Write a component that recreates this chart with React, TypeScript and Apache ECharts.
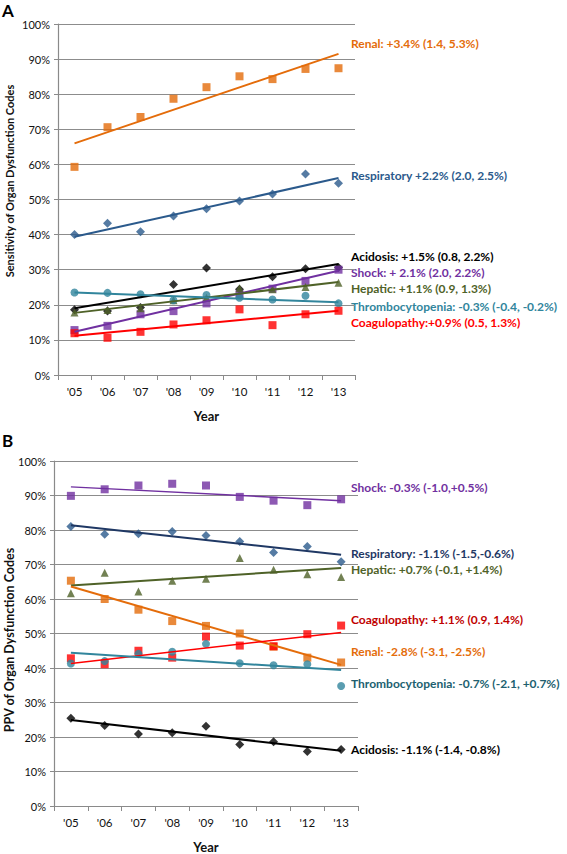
import React, { useEffect, useRef } from "react";
import * as echarts from "echarts";

const years = ["'05", "'06", "'07", "'08", "'09", "'10", "'11", "'12", "'13"];
const yTicks = [0, 10, 20, 30, 40, 50, 60, 70, 80, 90, 100];

// Panel A: sensitivity (%)
const sensRenal = [59.3, 70.6, 73.5, 78.7, 82.0, 85.1, 84.3, 87.2, 87.4];
const sensRespiratory = [40.0, 43.2, 40.8, 45.3, 47.4, 49.6, 51.6, 57.3, 54.6];
const sensAcidosis = [18.6, 18.2, 19.2, 25.8, 30.5, 24.4, 28.0, 30.3, 30.6];
const sensShock = [12.8, 14.0, 17.3, 18.2, 20.4, 23.0, 24.6, 26.8, 30.0];
const sensHepatic = [17.8, 18.5, 19.0, 21.3, 22.0, 24.7, 24.4, 25.1, 26.3];
const sensThrombo = [23.5, 23.4, 23.0, 21.3, 22.8, 22.0, 21.5, 22.6, 20.4];
const sensCoag = [11.9, 10.6, 12.3, 14.4, 15.6, 18.7, 14.2, 17.3, 18.3];

// Panel A trend lines: value at '05 and at '13
const sensTrendRenal = [66.0, 91.5];
const sensTrendRespiratory = [39.4, 56.1];
const sensTrendAcidosis = [19.0, 31.6];
const sensTrendShock = [12.3, 29.7];
const sensTrendHepatic = [17.7, 26.5];
const sensTrendThrombo = [23.5, 20.7];
const sensTrendCoag = [11.2, 18.3];

// Panel B: PPV (%)
const ppvShock = [89.9, 91.8, 92.9, 93.4, 92.9, 89.6, 88.5, 87.2, 88.9];
const ppvRespiratory = [81.0, 78.8, 78.9, 79.6, 78.4, 76.7, 73.5, 75.2, 70.8];
const ppvHepatic = [61.7, 67.6, 62.2, 65.3, 65.9, 71.9, 68.5, 67.2, 66.4];
const ppvRenal = [65.3, 60.0, 56.9, 53.6, 52.2, 50.0, 46.2, 43.0, 41.6];
const ppvCoag = [42.8, 41.1, 45.0, 43.0, 49.1, 46.5, 46.3, 49.8, 52.3];
const ppvThrombo = [41.3, 42.0, 44.1, 44.7, 47.0, 41.4, 40.8, 41.1, 34.8];
const ppvAcidosis = [25.4, 23.3, 20.9, 21.2, 23.1, 17.8, 18.6, 15.8, 16.4];

const ppvTrendShock = [92.5, 88.5];
const ppvTrendRespiratory = [81.4, 72.8];
const ppvTrendHepatic = [63.9, 69.0];
const ppvTrendRenal = [63.6, 40.9];
const ppvTrendCoag = [41.3, 50.3];
const ppvTrendThrombo = [44.4, 39.4];
const ppvTrendAcidosis = [24.9, 16.0];

const labelsA = [
  "Renal: +3.4% (1.4, 5.3%)",
  "Respiratory +2.2% (2.0, 2.5%)",
  "Acidosis: +1.5% (0.8, 2.2%)",
  "Shock: + 2.1% (2.0, 2.2%)",
  "Hepatic: +1.1% (0.9, 1.3%)",
  "Thrombocytopenia: -0.3% (-0.4, -0.2%)",
  "Coagulopathy:+0.9% (0.5, 1.3%)",
];
const labelsB = [
  "Shock: -0.3% (-1.0,+0.5%)",
  "Respiratory: -1.1% (-1.5,-0.6%)",
  "Hepatic: +0.7% (-0.1, +1.4%)",
  "Coagulopathy: +1.1% (0.9, 1.4%)",
  "Renal: -2.8% (-3.1, -2.5%)",
  "Thrombocytopenia: -0.7% (-2.1, +0.7%)",
  "Acidosis: -1.1% (-1.4, -0.8%)",
];
const yNameA = "Sensitivity of Organ Dysfunction Codes";
const yNameB = "PPV of Organ Dysfunction Codes";

const FONT = "Lato, 'Open Sans', sans-serif";
const C = {
  renal: "#E46C0A",
  resp: "#2B5A8C",
  respDark: "#1F3864",
  acid: "#000000",
  shock: "#7030A0",
  hepatic: "#4F6228",
  thrombo: "#31859C",
  thromboDark: "#215F70",
  coag: "#FF0000",
  coagDark: "#C00000",
};

function trendData(t: number[]) {
  return years.map((_, i) => (i === 0 ? t[0] : i === years.length - 1 ? t[1] : null));
}

function scatter(idx: number, data: number[], color: string, symbol: string, size: number) {
  return {
    type: "scatter",
    xAxisIndex: idx,
    yAxisIndex: idx,
    data,
    symbol,
    symbolSize: size,
    itemStyle: { color },
    z: 3,
  };
}

function trend(idx: number, t: number[], color: string, width: number) {
  return {
    type: "line",
    xAxisIndex: idx,
    yAxisIndex: idx,
    data: trendData(t),
    connectNulls: true,
    showSymbol: false,
    symbol: "none",
    lineStyle: { color, width },
    z: 4,
  };
}

function xAxis(idx: number) {
  return {
    type: "category",
    gridIndex: idx,
    data: years,
    boundaryGap: true,
    name: "Year",
    nameLocation: "middle",
    nameGap: 34,
    nameTextStyle: { fontFamily: FONT, fontWeight: "bold", fontSize: 13, color: "#111" },
    axisLine: { lineStyle: { color: "#8a8a8a", width: 1.2 } },
    axisTick: { show: true, alignWithLabel: false, length: 5, lineStyle: { color: "#8a8a8a" } },
    axisLabel: { fontFamily: FONT, fontSize: 11.5, color: "#111", margin: 10 },
    splitLine: { show: false },
  };
}

function yAxis(idx: number) {
  return {
    type: "value",
    gridIndex: idx,
    min: yTicks[0],
    max: yTicks[yTicks.length - 1],
    interval: 10,
    axisLine: { show: true, lineStyle: { color: "#8a8a8a", width: 1.2 } },
    axisTick: { show: true, length: 4, lineStyle: { color: "#8a8a8a" } },
    axisLabel: { fontFamily: FONT, fontSize: 11, color: "#111", margin: 8, formatter: "{value}%" },
    splitLine: { show: true, lineStyle: { color: "#8c8c8c", width: 1.2 } },
  };
}

function annot(x: number, y: number, text: string, color: string) {
  return {
    type: "text",
    left: x,
    top: y - 7,
    style: { text, fill: color, font: `bold 12px ${FONT}` },
  };
}

function yName(text: string, cy: number, size: number) {
  return {
    type: "text",
    x: 9,
    y: cy,
    rotation: Math.PI / 2,
    style: {
      text,
      fill: "#111",
      font: `bold ${size}px ${FONT}`,
      align: "center",
      verticalAlign: "middle",
    },
  };
}

export default function App() {
  const ref = useRef<HTMLDivElement>(null);
  useEffect(() => {
    if (!ref.current) return;
    const chart = echarts.init(ref.current, null, { renderer: "svg" });
    const option = {
      animation: false,
      backgroundColor: "#ffffff",
      grid: [
        { left: 58, top: 24, width: 297, height: 351 },
        { left: 54, top: 461, width: 304, height: 355 },
      ],
      xAxis: [xAxis(0), xAxis(1)],
      yAxis: [yAxis(0), yAxis(1)],
      series: [
        scatter(0, sensRenal, C.renal, "rect", 8),
        scatter(0, sensRespiratory, C.resp, "diamond", 9),
        scatter(0, sensAcidosis, C.acid, "diamond", 9),
        scatter(0, sensShock, C.shock, "rect", 8),
        scatter(0, sensHepatic, C.hepatic, "triangle", 8),
        scatter(0, sensThrombo, C.thrombo, "circle", 8),
        scatter(0, sensCoag, C.coag, "rect", 8),
        trend(0, sensTrendRenal, C.renal, 2),
        trend(0, sensTrendRespiratory, C.resp, 2),
        trend(0, sensTrendAcidosis, C.acid, 2),
        trend(0, sensTrendShock, C.shock, 2),
        trend(0, sensTrendHepatic, C.hepatic, 2),
        trend(0, sensTrendThrombo, C.thrombo, 2),
        trend(0, sensTrendCoag, C.coag, 2),

        scatter(1, ppvShock, C.shock, "rect", 8),
        scatter(1, ppvRespiratory, C.resp, "diamond", 9),
        scatter(1, ppvHepatic, C.hepatic, "triangle", 8),
        scatter(1, ppvRenal, C.renal, "rect", 8),
        scatter(1, ppvCoag, C.coag, "rect", 8),
        scatter(1, ppvThrombo, C.thrombo, "circle", 8),
        scatter(1, ppvAcidosis, C.acid, "diamond", 9),
        trend(1, ppvTrendShock, C.shock, 1.5),
        trend(1, ppvTrendRespiratory, C.respDark, 2),
        trend(1, ppvTrendHepatic, C.hepatic, 2),
        trend(1, ppvTrendRenal, C.renal, 2),
        trend(1, ppvTrendCoag, C.coag, 1.5),
        trend(1, ppvTrendThrombo, C.thrombo, 2),
        trend(1, ppvTrendAcidosis, C.acid, 2),
      ],
      graphic: [
        { type: "text", left: 2, top: 2, style: { text: "A", fill: "#000", font: `bold 17px ${FONT}` } },
        { type: "text", left: 2, top: 432, style: { text: "B", fill: "#000", font: `bold 17px ${FONT}` } },
        yName(yNameA, 181, 11),
        yName(yNameB, 640, 12.5),
        annot(351, 44, labelsA[0], C.renal),
        annot(351, 176, labelsA[1], C.resp),
        annot(351, 257, labelsA[2], C.acid),
        annot(351, 273, labelsA[3], C.shock),
        annot(351, 289, labelsA[4], C.hepatic),
        annot(351, 307, labelsA[5], C.thrombo),
        annot(351, 323, labelsA[6], C.coag),
        annot(351, 488, labelsB[0], C.shock),
        annot(351, 554, labelsB[1], C.respDark),
        annot(351, 570, labelsB[2], C.hepatic),
        annot(351, 620, labelsB[3], C.coagDark),
        annot(351, 652, labelsB[4], C.renal),
        annot(351, 684, labelsB[5], C.thromboDark),
        annot(351, 750, labelsB[6], C.acid),
      ],
    };
    chart.setOption(option as any);
    return () => chart.dispose();
  }, []);
  return (
    <div
      ref={ref}
      style={{ position: "fixed", left: 0, top: 0, width: 567, height: 854, background: "#fff" }}
    />
  );
}
